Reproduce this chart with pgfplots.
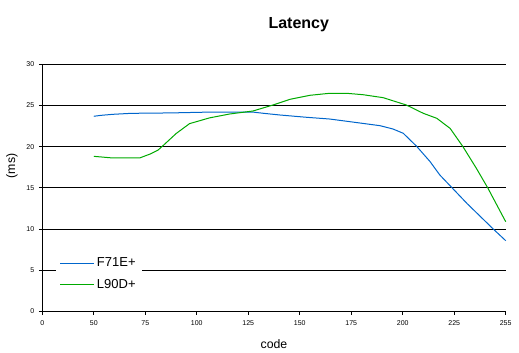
\documentclass[border=0pt]{standalone}
\usepackage{pgfplots}
\pgfplotsset{compat=1.18}
\usepackage{fontspec}
\setmainfont{Liberation Sans}
\definecolor{serblue}{RGB}{0,102,204}
\definecolor{sergreen}{RGB}{0,170,0}
\begin{document}
\begin{tikzpicture}[x=1pt,y=1pt]
\path[use as bounding box] (0,0) rectangle (519,353);
\begin{axis}[
  at={(42.3pt,41.5pt)}, anchor=south west,
  scale only axis, width=463.4pt, height=247.2pt,
  xmin=0, xmax=9, ymin=0, ymax=30,
  axis x line=bottom, axis y line=left,
  axis line style={black, line width=0.9pt, -},
  xtick={0,1,2,3,4,5,6,7,8,9},
  xticklabels={0,50,75,100,125,150,175,200,225,255},
  ytick={0,5,10,15,20,25,30},
  tick align=outside, major tick length=3.5pt,
  tick style={black, line width=0.9pt},
  ymajorgrids, grid style={black, line width=0.9pt},
  /pgf/number format/assume math mode=true,
  tick label style={font=\fontsize{7}{8}\selectfont},
  xticklabel style={yshift=-2pt},
  yticklabel style={xshift=-1pt},
  legend style={at={(0.029,0.238)}, anchor=north west, draw=none, fill=white,
    nodes={font=\fontsize{13}{15}\selectfont}, row sep=7pt, inner xsep=4pt, inner ysep=3pt},
  legend cell align=left,
  legend image code/.code={\path (-4pt,0pt) -- (30pt,0pt); \draw[#1] (0pt,0pt) -- (27pt,0pt);},
  clip=false,
]
\addlegendimage{serblue, line width=1pt}
\addlegendentry{F71E+\hspace{6pt}}
\addlegendimage{sergreen, line width=1pt}
\addlegendentry{L90D+}
\addplot[serblue, line width=1pt, forget plot] coordinates {
(1.00,23.69) (1.13,23.8) (1.37,23.93) (1.73,24.05) (2.5,24.1) (3.25,24.2) (4.09,24.2)
(4.3,24.05) (4.61,23.85) (5.13,23.57) (5.58,23.36) (5.97,23.04) (6.56,22.55) (6.81,22.15)
(7.01,21.63) (7.27,20.05) (7.53,18.2) (7.72,16.57) (7.96,15.0) (8.25,13.1) (8.76,10.0) (9.0,8.6)
};
\addplot[sergreen, line width=1pt, forget plot] coordinates {
(1.0,18.83) (1.15,18.75) (1.37,18.63) (1.89,18.63) (2.09,19.1) (2.25,19.6) (2.34,20.1)
(2.60,21.6) (2.86,22.8) (3.25,23.5) (3.64,23.97) (4.09,24.33) (4.48,25.06) (4.81,25.75)
(5.20,26.24) (5.58,26.48) (5.91,26.48) (6.23,26.31) (6.62,25.95) (7.07,25.06) (7.40,24.05)
(7.66,23.45) (7.92,22.23) (8.17,20.0) (8.43,17.38) (8.65,15.02) (9.0,10.9)
};
\end{axis}
\node[anchor=base, font=\bfseries\fontsize{16}{19}\selectfont] at (298.8,324) {Latency};
\node[anchor=base, font=\fontsize{12.3}{14}\selectfont] at (274,4.7) {code};
\node[rotate=90, font=\fontsize{12.3}{14}\selectfont] at (12,187) {(ms)};
\end{tikzpicture}
\end{document}
